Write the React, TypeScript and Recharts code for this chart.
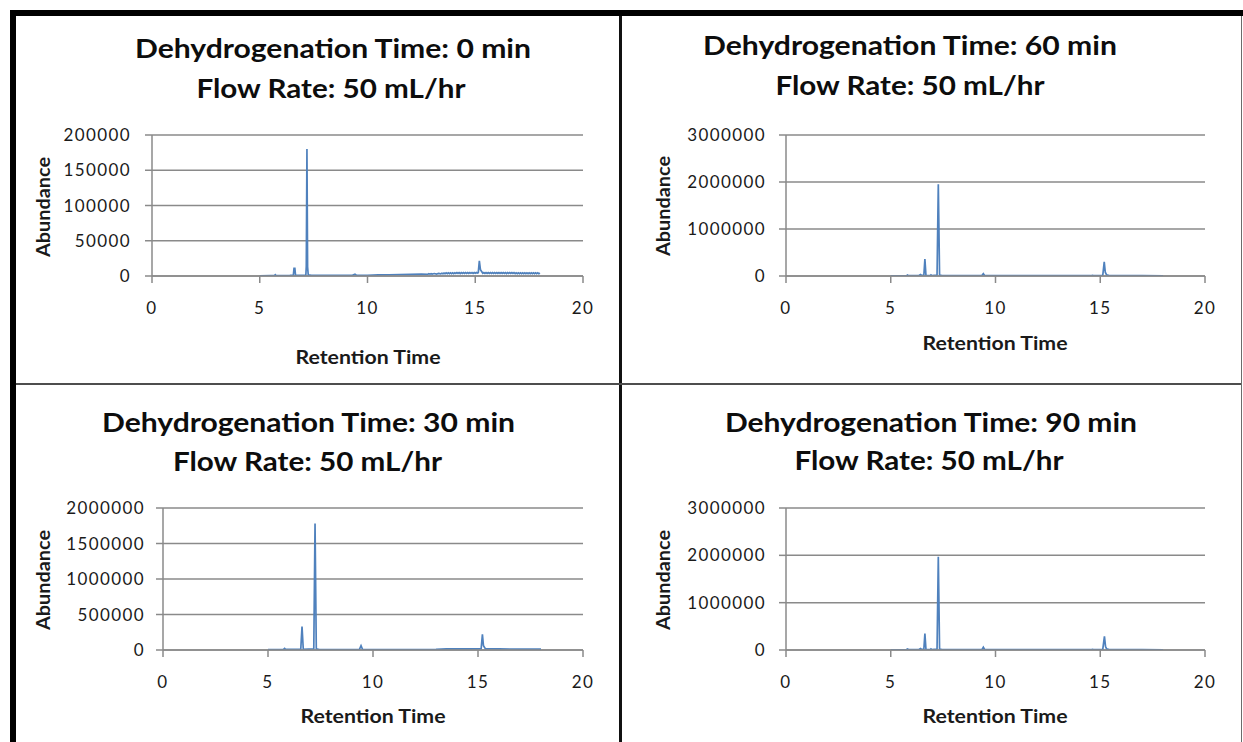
import React from 'react';
import { LineChart, Line, XAxis, YAxis, CartesianGrid } from 'recharts';

// Retention time axis (minutes)
const X_TICKS = [0, 5, 10, 15, 20];

// Abundance axis ticks per panel
const Y_TICKS_0MIN = [0, 50000, 100000, 150000, 200000];
const Y_TICKS_30MIN = [0, 500000, 1000000, 1500000, 2000000];
const Y_TICKS_60MIN = [0, 1000000, 2000000, 3000000];
const Y_TICKS_90MIN = [0, 1000000, 2000000, 3000000];

// Chromatogram traces: [retention time, abundance]
const TRACE_0MIN: [number, number][] = [
  [5.0, 300], [5.5, 500], [5.68, 600], [5.72, 1800], [5.76, 600], [6.4, 900], [6.56, 1200],
  [6.59, 10700], [6.63, 10700], [6.66, 1100], [7.1, 1000], [7.14, 1500], [7.16, 14000],
  [7.19, 180000], [7.22, 13000], [7.25, 1500], [7.4, 800], [9.3, 900], [9.42, 2600],
  [9.5, 900], [10.0, 1100], [10.5, 1500], [11.0, 1800], [11.5, 2100], [12.0, 2400],
  [12.5, 2700], [12.8, 2500], [12.85, 3300], [12.9, 2600], [12.95, 3400], [13.0, 2700],
  [13.1, 3500], [13.2, 2800], [13.3, 3700], [13.4, 3000],
  [13.45, 3900], [13.5, 3100], [13.55, 4300], [13.6, 3200], [13.65, 4400], [13.7, 3300],
  [13.75, 4500], [13.8, 3300], [13.85, 4500], [13.9, 3400], [13.95, 4600], [14.0, 3400],
  [14.05, 4600], [14.1, 3500], [14.15, 4700], [14.2, 3500], [14.25, 4700], [14.3, 3500],
  [14.35, 4800], [14.4, 3600], [14.45, 4800], [14.5, 3600], [14.55, 4800], [14.6, 3700],
  [14.65, 4900], [14.7, 3700], [14.75, 4900], [14.8, 3800], [14.85, 4900], [14.9, 3800],
  [14.95, 5000], [15.0, 3900], [15.05, 5000], [15.1, 4200], [15.14, 4800],
  [15.19, 21500], [15.24, 9000], [15.32, 5200], [15.35, 3800], [15.4, 5000], [15.45, 3800],
  [15.5, 5000], [15.55, 3800], [15.6, 4900], [15.65, 3700], [15.7, 4900], [15.75, 3700],
  [15.8, 4900], [15.85, 3700], [15.9, 4900], [15.95, 3700], [16.0, 4800], [16.05, 3600],
  [16.1, 4800], [16.15, 3600], [16.2, 4800], [16.25, 3600], [16.3, 4800], [16.35, 3600],
  [16.4, 4800], [16.45, 3500], [16.5, 4700], [16.55, 3500], [16.6, 4700], [16.65, 3500],
  [16.7, 4700], [16.75, 3500], [16.8, 4700], [16.85, 3400], [16.9, 4600], [16.95, 3400],
  [17.0, 4600], [17.05, 3400], [17.1, 4600], [17.15, 3400], [17.2, 4600], [17.25, 3300],
  [17.3, 4500], [17.35, 3300], [17.4, 4500], [17.45, 3300], [17.5, 4500], [17.55, 3300],
  [17.6, 4500], [17.65, 3200], [17.7, 4400], [17.75, 3200], [17.8, 4400], [17.85, 3200],
  [17.9, 4400], [17.95, 3200], [18.0, 4300],
];

const TRACE_60MIN: [number, number][] = [
  [5.0, 5000], [5.75, 8000], [5.8, 20000], [5.85, 8000], [6.35, 10000], [6.42, 30000],
  [6.48, 12000], [6.58, 15000], [6.63, 360000], [6.68, 15000], [6.88, 10000], [6.92, 25000],
  [6.96, 10000], [7.21, 20000], [7.27, 1950000], [7.33, 20000], [7.45, 8000], [9.35, 8000],
  [9.42, 50000], [9.48, 12000], [9.6, 9000], [10.0, 6000], [12.0, 6000], [14.55, 6000],
  [14.62, 15000], [14.68, 7000], [15.12, 12000], [15.19, 300000], [15.24, 80000],
  [15.3, 25000], [15.4, 12000], [16.0, 8000], [17.0, 6000], [18.0, 5000],
];

const TRACE_30MIN: [number, number][] = [
  [5.0, 5000], [5.74, 8000], [5.79, 22000], [5.84, 8000], [6.4, 9000], [6.56, 10000],
  [6.62, 330000], [6.68, 10000], [7.18, 15000], [7.24, 1780000], [7.3, 15000], [7.45, 6000],
  [9.35, 6000], [9.43, 60000], [9.5, 10000], [10.0, 6000], [12.0, 7000], [13.0, 8000],
  [13.5, 15000], [14.5, 17000], [15.15, 18000], [15.21, 220000], [15.26, 60000],
  [15.35, 18000], [16.0, 15000], [17.0, 13000], [18.0, 12000],
];

const TRACE_90MIN: [number, number][] = [
  [5.0, 5000], [5.75, 8000], [5.8, 20000], [5.85, 8000], [6.35, 10000], [6.42, 30000],
  [6.48, 12000], [6.58, 15000], [6.63, 350000], [6.68, 15000], [6.88, 10000], [6.92, 25000],
  [6.96, 10000], [7.21, 20000], [7.27, 1970000], [7.33, 20000], [7.45, 8000], [9.35, 8000],
  [9.42, 60000], [9.48, 12000], [9.6, 9000], [10.0, 6000], [12.0, 6000], [14.55, 6000],
  [14.62, 15000], [14.68, 7000], [15.12, 12000], [15.2, 290000], [15.25, 80000],
  [15.3, 25000], [15.4, 12000], [16.0, 8000], [17.0, 6000], [18.0, 5000],
];

const TITLES = [
  'Dehydrogenation Time: 0 min',
  'Dehydrogenation Time: 60 min',
  'Dehydrogenation Time: 30 min',
  'Dehydrogenation Time: 90 min',
];
const SUBTITLE = 'Flow Rate: 50 mL/hr';
const X_LABEL = 'Retention Time';
const Y_LABEL = 'Abundance';

const FONT = 'Lato, "Open Sans", sans-serif';
const GRID = '#8a8a8a';
const LINE = '#4F81BD';

type Rect = { x0: number; y0: number; x1: number; y1: number };

const YW = 120;
const TOP = 10;
const RIGHT = 20;
const XH = 50;

function Panel({ trace, yMax, yTicks, plot, yTickMargin }: {
  trace: [number, number][]; yMax: number; yTicks: number[]; plot: Rect; yTickMargin: number;
}) {
  const data = trace.map(([t, v]) => ({ t, v }));
  const tickStyle = { fill: '#1a1a1a', fontSize: 17, fontFamily: FONT, letterSpacing: 1.4 };
  return (
    <div style={{ position: 'absolute', left: plot.x0 - YW, top: plot.y0 - TOP }}>
      <LineChart
        width={plot.x1 - plot.x0 + YW + RIGHT}
        height={plot.y1 - plot.y0 + TOP + XH}
        data={data}
        margin={{ top: TOP, right: RIGHT, bottom: 0, left: 0 }}
      >
        <CartesianGrid vertical={false} stroke={GRID} strokeWidth={1.5} />
        <XAxis
          dataKey="t"
          type="number"
          domain={[0, 20]}
          ticks={X_TICKS}
          interval={0}
          height={XH}
          allowDataOverflow
          axisLine={{ stroke: GRID, strokeWidth: 1.5 }}
          tickLine={{ stroke: GRID, strokeWidth: 1.5 }}
          tickSize={7}
          tickMargin={19}
          tick={tickStyle}
        />
        <YAxis
          type="number"
          domain={[0, yMax]}
          ticks={yTicks}
          interval={0}
          width={YW}
          allowDataOverflow
          axisLine={{ stroke: GRID, strokeWidth: 1.5 }}
          tickLine={{ stroke: GRID, strokeWidth: 1.5 }}
          tickSize={7}
          tickMargin={yTickMargin}
          tick={tickStyle}
        />
        <Line
          dataKey="v"
          type="linear"
          stroke={LINE}
          strokeWidth={1.7}
          dot={false}
          activeDot={false}
          isAnimationActive={false}
        />
      </LineChart>
    </div>
  );
}

function Titles() {
  const title = {
    fontFamily: FONT, fontWeight: 700, fontSize: 26.5, fill: '#0d0d0d',
    textAnchor: 'middle' as const, lengthAdjust: 'spacingAndGlyphs' as const,
  };
  const axis = {
    fontFamily: FONT, fontWeight: 700, fontSize: 18, fill: '#1a1a1a',
    textAnchor: 'middle' as const, lengthAdjust: 'spacingAndGlyphs' as const,
  };
  const heads = [
    { x1: 333, b1: 58, w1: 396, x2: 331, b2: 98 },
    { x1: 910, b1: 55, w1: 414, x2: 910, b2: 95 },
    { x1: 308.5, b1: 432, w1: 413, x2: 307.5, b2: 471 },
    { x1: 931, b1: 432, w1: 412, x2: 929, b2: 470 },
  ];
  const xl = [
    { x: 368, y: 364 },
    { x: 995, y: 350 },
    { x: 373, y: 723 },
    { x: 995, y: 723 },
  ];
  const yl = [
    { x: 50, y: 207 },
    { x: 670, y: 206 },
    { x: 50, y: 580 },
    { x: 670, y: 580 },
  ];
  return (
    <svg width={1243} height={742} style={{ position: 'absolute', left: 0, top: 0, pointerEvents: 'none' }}>
      {heads.map((h, i) => (
        <g key={i}>
          <text x={h.x1} y={h.b1} textLength={h.w1} {...title}>{TITLES[i]}</text>
          <text x={h.x2} y={h.b2} textLength={269} {...title}>{SUBTITLE}</text>
        </g>
      ))}
      {xl.map((p, i) => (
        <text key={'x' + i} x={p.x} y={p.y} textLength={145} {...axis}>{X_LABEL}</text>
      ))}
      {yl.map((p, i) => (
        <text key={'y' + i} x={p.x} y={p.y} textLength={100} {...axis} transform={`rotate(-90 ${p.x} ${p.y})`}>{Y_LABEL}</text>
      ))}
    </svg>
  );
}

export default function App() {
  return (
    <div style={{ position: 'absolute', left: 0, top: 0, width: 1243, height: 742, background: '#fff', overflow: 'hidden' }}>
      {/* frame */}
      <div style={{ position: 'absolute', left: 10, top: 10, width: 1233, height: 6, background: '#000' }} />
      <div style={{ position: 'absolute', left: 10, top: 10, width: 6, height: 732, background: '#000' }} />
      <div style={{ position: 'absolute', left: 1240.5, top: 16, width: 1.5, height: 726, background: '#6b6b6b' }} />
      <div style={{ position: 'absolute', left: 619, top: 16, width: 2.5, height: 726, background: '#111' }} />
      <div style={{ position: 'absolute', left: 16, top: 382.5, width: 1225, height: 2.5, background: '#4d4d4d' }} />

      <Panel trace={TRACE_0MIN} yMax={200000} yTicks={Y_TICKS_0MIN} plot={{ x0: 152, y0: 135, x1: 583, y1: 276 }} yTickMargin={14} />
      <Panel trace={TRACE_60MIN} yMax={3000000} yTicks={Y_TICKS_60MIN} plot={{ x0: 786, y0: 135, x1: 1205, y1: 276 }} yTickMargin={13} />
      <Panel trace={TRACE_30MIN} yMax={2000000} yTicks={Y_TICKS_30MIN} plot={{ x0: 163, y0: 508, x1: 583, y1: 650 }} yTickMargin={11} />
      <Panel trace={TRACE_90MIN} yMax={3000000} yTicks={Y_TICKS_90MIN} plot={{ x0: 786, y0: 508, x1: 1205, y1: 650 }} yTickMargin={13} />

      <Titles />
    </div>
  );
}
